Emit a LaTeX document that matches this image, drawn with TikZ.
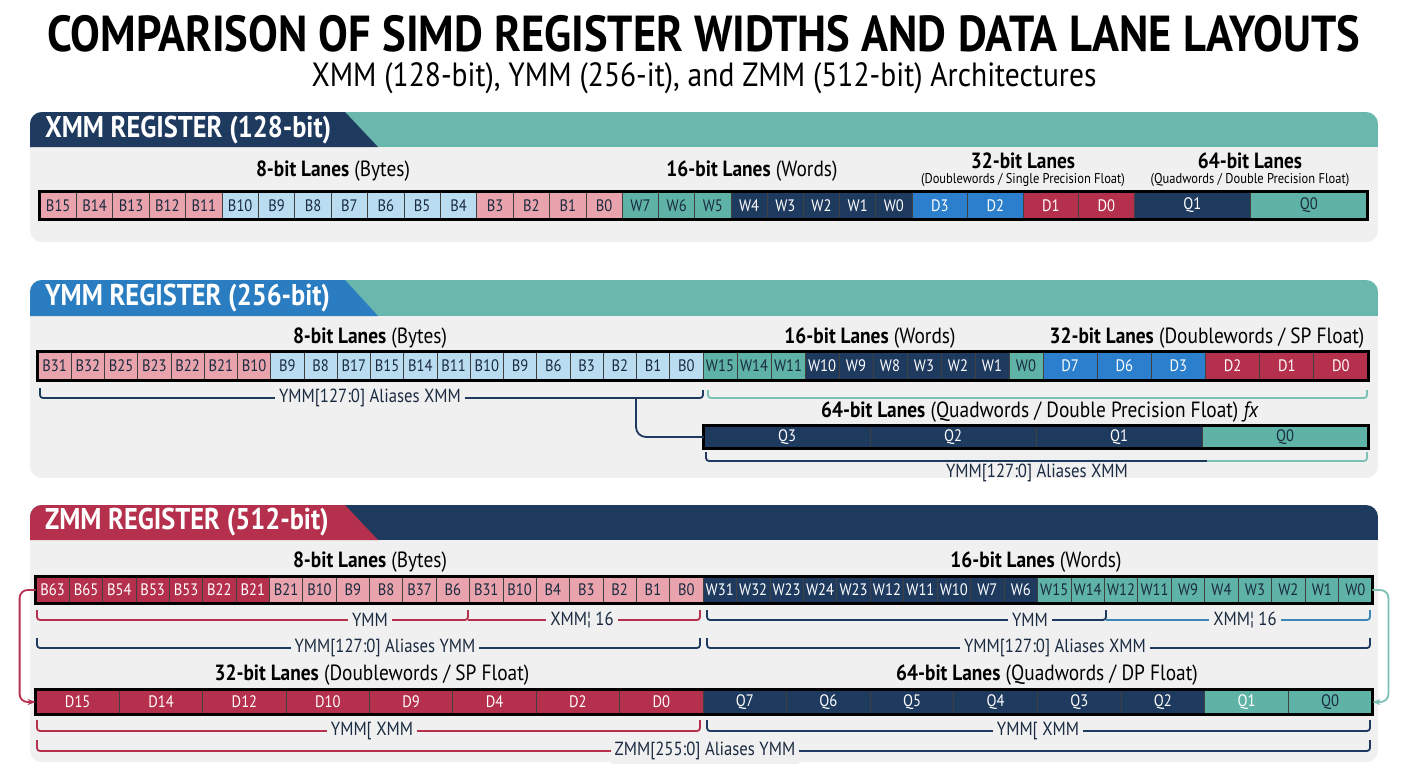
\documentclass[tikz,border=0pt]{standalone}
\usepackage{fontspec}
\setmainfont{PT Sans}[FakeStretch=0.88]
\usetikzlibrary{arrows.meta}

\definecolor{panel}{HTML}{F0F0F0}
\definecolor{ink}{HTML}{1A2A40}
\definecolor{pk}{HTML}{E8A3AC}
\definecolor{lb}{HTML}{B9DCF0}
\definecolor{tl}{HTML}{5FB3A6}
\definecolor{tlw}{HTML}{5FB3A6}
\definecolor{nv}{HTML}{1F3A5F}
\definecolor{bl}{HTML}{2B7FCC}
\definecolor{cr}{HTML}{B5304C}
\definecolor{hdteal}{HTML}{6AB7AD}
\definecolor{hdblue}{HTML}{2A7DC1}
\definecolor{brteal}{HTML}{7CC0B6}
\definecolor{brblue}{HTML}{3D86B8}
\definecolor{tpk}{HTML}{1A2A40}
\definecolor{tlb}{HTML}{1A2A40}
\definecolor{ttl}{HTML}{1A2A40}
\definecolor{ttlw}{HTML}{FFFFFF}
\definecolor{tnv}{HTML}{FFFFFF}
\definecolor{tbl}{HTML}{FFFFFF}
\definecolor{tcr}{HTML}{FFFFFF}

\tikzset{
  cell/.style={draw=black!75, line width=0.4pt, inner sep=0pt, font=\fontsize{8.3}{9}\selectfont},
  rowbox/.style={draw=black, line width=1.3pt},
  brk/.style={line width=0.9pt, rounded corners=1.5pt},
  brklbl/.style={fill=panel, inner sep=2pt, font=\fontsize{9.5}{11}\selectfont, text=ink},
  lanelbl/.style={inner sep=0.5pt, font=\fontsize{11}{13}\selectfont, text=black},
  sublbl/.style={inner sep=0.5pt, font=\fontsize{7.1}{8}\selectfont, text=black},
  hdr/.style={font=\bfseries\fontsize{15}{17}\selectfont, text=white, anchor=west},
}

\begin{document}
\begin{tikzpicture}[x=0.5pt, y=-0.5pt]

\useasboundingbox (0,0) rectangle (1408,768);
\fill[white] (0,0) rectangle (1408,768);

% title
\node[inner sep=0pt, text depth=0pt, font=\bfseries\fontsize{25.3}{30}\selectfont] (title) at (704,33) {COMPARISON OF SIMD REGISTER WIDTHS AND DATA LANE LAYOUTS};
\node[inner sep=0pt, font=\fontsize{16.8}{20}\selectfont] (subtitle) at (704,78) {XMM (128-bit), YMM (256-it), and ZMM (512-bit) Architectures};

% ---------------- XMM ----------------
\begin{scope}
\clip[rounded corners=6pt] (30,112) rectangle (1378,242);
\fill[panel] (30,112) rectangle (1378,242);
\fill[hdteal] (30,112) rectangle (1378,147);
\fill[nv] (30,112) -- (345,112) -- (378,147) -- (30,147) -- cycle;
\end{scope}
\node[hdr] (xhdr) at (38,130) {XMM REGISTER (128-bit)};

\node[lanelbl] (xl8) at (333,171) {\textbf{8-bit Lanes} (Bytes)};
\node[lanelbl] (xl16) at (752,171) {\textbf{16-bit Lanes} (Words)};
\node[lanelbl] (xl32) at (1023,161) {\textbf{32-bit Lanes}};
\node[sublbl] (xs32) at (1023,180) {(Doublewords / Single Precision Float)};
\node[lanelbl] (xl64) at (1250,161) {\textbf{64-bit Lanes}};
\node[sublbl] (xs64) at (1250,180) {(Quadwords / Double Precision Float)};

\foreach \t/\c [count=\i from 0] in {B15/pk,B14/pk,B13/pk,B12/pk,B11/pk,B10/lb,B9/lb,B8/lb,B7/lb,B6/lb,B5/lb,B4/lb,B3/pk,B2/pk,B1/pk,B0/pk}
  \node[cell, fill=\c, text=t\c, minimum width=18.2pt, minimum height=13.5pt] (xb\i) at (40+36.4*\i+18.2,205.5) {\t};
\foreach \t/\c [count=\i from 0] in {W7/tl,W6/tl,W5/tl,W4/nv,W3/nv,W2/nv,W1/nv,W0/nv}
  \node[cell, fill=\c, text=t\c, minimum width=18.1pt, minimum height=13.5pt] (xw\i) at (622.4+36.2*\i+18.1,205.5) {\t};
\foreach \t/\c [count=\i from 0] in {D3/bl,D2/bl,D1/cr,D0/cr}
  \node[cell, fill=\c, text=t\c, minimum width=27.75pt, minimum height=13.5pt] (xd\i) at (912+55.5*\i+27.75,205.5) {\t};
\foreach \t/\c [count=\i from 0] in {Q1/nv,Q0/tl}
  \node[cell, fill=\c, text=t\c, minimum width=58.25pt, minimum height=13.5pt] (xq\i) at (1134+116.5*\i+58.25,205.5) {\t};
\draw[rowbox] (xb0.north west) rectangle (xq1.south east);

% ---------------- YMM ----------------
\begin{scope}
\clip[rounded corners=6pt] (30,280) rectangle (1378,478);
\fill[panel] (30,280) rectangle (1378,478);
\fill[hdteal] (30,280) rectangle (1378,316);
\fill[hdblue] (30,280) -- (345,280) -- (378,316) -- (30,316) -- cycle;
\end{scope}
\node[hdr] (yhdr) at (38,298) {YMM REGISTER (256-bit)};

\node[lanelbl] (yl8) at (370,338) {\textbf{8-bit Lanes} (Bytes)};
\node[lanelbl] (yl16) at (870,338) {\textbf{16-bit Lanes} (Words)};
\node[lanelbl] (yl32) at (1207,338) {\textbf{32-bit Lanes} (Doublewords / SP Float)};

\foreach \t/\c [count=\i from 0] in {B31/pk,B32/pk,B25/pk,B23/pk,B22/pk,B21/pk,B10/pk,B9/lb,B8/lb,B17/lb,B15/lb,B14/lb,B11/lb,B10/lb,B9/lb,B6/lb,B3/lb,B2/lb,B1/lb,B0/lb}
  \node[cell, fill=\c, text=t\c, minimum width=16.625pt, minimum height=14pt] (yb\i) at (38+33.25*\i+16.625,366) {\t};
\foreach \t/\c [count=\i from 0] in {W15/tl,W14/tl,W11/tl,W10/nv,W9/nv,W8/nv,W3/nv,W2/nv,W1/nv,W0/tl}
  \node[cell, fill=\c, text=t\c, minimum width=17pt, minimum height=14pt] (yw\i) at (703+34*\i+17,366) {\t};
\foreach \t/\c [count=\i from 0] in {D7/bl,D6/bl,D3/bl,D2/cr,D1/cr,D0/cr}
  \node[cell, fill=\c, text=t\c, minimum width=27.083pt, minimum height=14pt] (yd\i) at (1043+54.167*\i+27.083,366) {\t};
\draw[rowbox] (yb0.north west) rectangle (yd5.south east);

\draw[brk, nv] (40,388) -- (40,398) -- (703,398) -- (703,390);
\node[brklbl] (ybl) at (370,398) {YMM[127:0] Aliases XMM};
\draw[brk, brteal] (708,390) -- (708,398) -- (1367,398) -- (1367,390);

\node[lanelbl] (yl64) at (1040,412) {\textbf{64-bit Lanes} (Quadwords / Double Precision Float) \textit{fx}};

\foreach \t/\c [count=\i from 0] in {Q3/nv,Q2/nv,Q1/nv,Q0/tl}
  \node[cell, fill=\c, text=t\c, minimum width=83pt, minimum height=11pt] (yq\i) at (704+166*\i+83,437) {\t};
\draw[rowbox] (yq0.north west) rectangle (yq3.south east);

\coordinate (ytap) at (636,398);
\draw[brk, nv, rounded corners=5pt] (ytap) |- (yq0.west);

\draw[brk, nv] (706,452) -- (706,461) -- (1207,461);
\draw[brk, brteal] (1207,461) -- (1367,461) -- (1367,452);
\node[font=\fontsize{9.5}{11}\selectfont, text=ink] (yql) at (1037,473) {YMM[127:0] Aliases XMM};

% ---------------- ZMM ----------------
\begin{scope}
\clip[rounded corners=6pt] (30,505) rectangle (1378,762);
\fill[panel] (30,505) rectangle (1378,762);
\fill[nv] (30,505) rectangle (1378,540);
\fill[cr] (30,505) -- (345,505) -- (378,540) -- (30,540) -- cycle;
\end{scope}
\node[hdr] (zhdr) at (38,522) {ZMM REGISTER (512-bit)};

\node[lanelbl] (zl8) at (370,562) {\textbf{8-bit Lanes} (Bytes)};
\node[lanelbl] (zl16) at (1036,562) {\textbf{16-bit Lanes} (Words)};

\foreach \t/\c [count=\i from 0] in {B63/cr,B65/cr,B54/cr,B53/cr,B53/cr,B22/cr,B21/cr,B21/pk,B10/pk,B9/pk,B8/pk,B37/pk,B6/pk,B31/pk,B10/pk,B4/pk,B3/pk,B2/pk,B1/pk,B0/pk}
  \node[cell, fill=\c, text=t\c, minimum width=16.675pt, minimum height=13pt] (zb\i) at (36+33.35*\i+16.675,590) {\t};
\foreach \t/\c [count=\i from 0] in {W31/nv,W32/nv,W23/nv,W24/nv,W23/nv,W12/nv,W11/nv,W10/nv,W7/nv,W6/nv,W15/tl,W14/tl,W12/tl,W11/tl,W9/tl,W4/tl,W3/tl,W2/tl,W1/tl,W0/tl}
  \node[cell, fill=\c, text=t\c, minimum width=16.725pt, minimum height=13pt] (zw\i) at (703+33.45*\i+16.725,590) {\t};
\draw[rowbox] (zb0.north west) rectangle (zw19.south east);

% brackets under bytes / words
\draw[brk, cr] (37,610) -- (37,620) -- (468,620) -- (468,610);
\node[brklbl] (zy1) at (370,620) {YMM};
\draw[brk, cr] (468,620) -- (700,620) -- (700,610);
\node[brklbl] (zx1) at (582,620) {XMM¦ 16};
\draw[brk, nv] (707,610) -- (707,620) -- (1106,620) -- (1106,610);
\node[brklbl] (zy2) at (1030,620) {YMM};
\draw[brk, brblue] (1106,620) -- (1370,620) -- (1370,610);
\node[brklbl] (zx2) at (1245,620) {XMM¦ 16};

\draw[brk, nv] (37,638) -- (37,648) -- (700,648) -- (700,638);
\node[brklbl] (za1) at (385,648) {YMM[127:0] Aliases YMM};
\draw[brk, nv] (707,638) -- (707,648) -- (1370,648) -- (1370,638);
\node[brklbl] (za2) at (1055,648) {YMM[127:0] Aliases XMM};

\node[lanelbl] (zl32) at (372,675) {\textbf{32-bit Lanes} (Doublewords / SP Float)};
\node[lanelbl] (zl64) at (1047,675) {\textbf{64-bit Lanes} (Quadwords / DP Float)};

\foreach \t/\c [count=\i from 0] in {D15/cr,D14/cr,D12/cr,D10/cr,D9/cr,D4/cr,D2/cr,D0/cr}
  \node[cell, fill=\c, text=t\c, minimum width=41.69pt, minimum height=12pt] (zd\i) at (36+83.375*\i+41.69,702) {\t};
\foreach \t/\c [count=\i from 0] in {Q7/nv,Q6/nv,Q5/nv,Q4/nv,Q3/nv,Q2/nv,Q1/tlw,Q0/tl}
  \node[cell, fill=\c, text=t\c, minimum width=41.81pt, minimum height=12pt] (zq\i) at (703+83.625*\i+41.81,702) {\t};
\draw[rowbox] (zd0.north west) rectangle (zq7.south east);

\draw[brk, cr] (37,720) -- (37,731) -- (700,731) -- (700,720);
\node[brklbl] (zm1) at (372,731) {YMM[ XMM};
\draw[brk, nv] (707,720) -- (707,731) -- (1370,731) -- (1370,720);
\node[brklbl] (zm2) at (1038,731) {YMM[ XMM};

\draw[brk, cr] (37,740) -- (37,751) -- (705,751);
\draw[brk, nv] (705,751) -- (1370,751) -- (1370,740);
\node[brklbl] (zall) at (705,751) {ZMM[255:0] Aliases YMM};

% side arrows
\draw[brk, cr, rounded corners=4pt, -{Stealth[length=4pt]}] (zb0.west) -- ++(-16,0) |- (zd0.west);
\draw[brk, brteal, rounded corners=4pt, -{Stealth[length=4pt]}] (zw19.east) -- ++(16,0) |- (zq7.east);

\end{tikzpicture}
\end{document}
